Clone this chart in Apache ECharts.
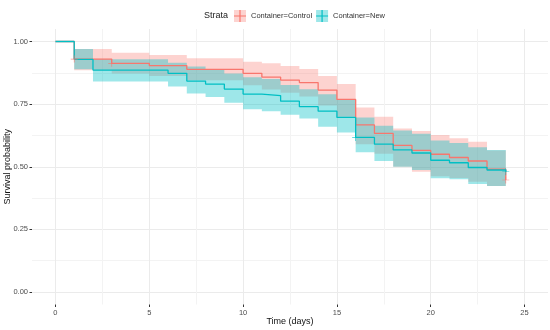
<!DOCTYPE html>
<html><head><meta charset="utf-8">
<script src="https://cdn.jsdelivr.net/npm/echarts@6/dist/echarts.min.js"></script>
<style>html,body{margin:0;padding:0;background:#fff}#c{width:550px;height:330px}</style>
</head><body><div id="c"></div>
<script>
// ---- data ----
const timesControl = [0, 1, 3, 5, 7, 10, 11, 12, 13, 14, 15, 16, 17, 18, 19, 20, 21, 22, 23, 24];
const survControl  = [1, 0.930, 0.913, 0.904, 0.889, 0.873, 0.858, 0.846, 0.836, 0.806, 0.769, 0.667, 0.633, 0.585, 0.565, 0.550, 0.537, 0.523, 0.490, 0.447];
const upperControl = [1, 0.970, 0.955, 0.946, 0.933, 0.919, 0.913, 0.902, 0.890, 0.862, 0.830, 0.737, 0.700, 0.653, 0.643, 0.627, 0.614, 0.600, 0.565, 0.447];
const lowerControl = [1, 0.885, 0.872, 0.862, 0.845, 0.825, 0.808, 0.795, 0.780, 0.745, 0.700, 0.590, 0.552, 0.500, 0.480, 0.462, 0.455, 0.440, 0.423, 0.447];
const censorControl = [[1, 0.930], [3, 0.913], [24, 0.447]];

const timesNew = [0, 1, 2, 6, 7, 8, 9, 10, 11, 12, 13, 14, 15, 16, 17, 18, 19, 20, 21, 22, 23, 24];
const survNew  = [1, 0.929, 0.886, 0.873, 0.842, 0.830, 0.810, 0.790, 0.784, 0.762, 0.740, 0.722, 0.697, 0.617, 0.590, 0.567, 0.555, 0.526, 0.516, 0.497, 0.487, 0.480];
const upperNew = [1, 0.970, 0.929, 0.915, 0.900, 0.890, 0.872, 0.857, 0.850, 0.826, 0.809, 0.789, 0.770, 0.697, 0.664, 0.645, 0.632, 0.605, 0.595, 0.578, 0.567, 0.480];
const lowerNew = [1, 0.889, 0.840, 0.820, 0.792, 0.778, 0.756, 0.730, 0.722, 0.708, 0.693, 0.660, 0.637, 0.558, 0.523, 0.500, 0.487, 0.454, 0.450, 0.431, 0.423, 0.480];
const censorNew = [[16, 0.617], [24, 0.480]];

const xMajorTicks = [0, 5, 10, 15, 20, 25];
const xMinorTicks = [2.5, 7.5, 12.5, 17.5, 22.5];
const yMajorTicks = [0, 0.25, 0.5, 0.75, 1];
const yMinorTicks = [0.125, 0.375, 0.625, 0.875];
const strataNames = ['Container=Control', 'Container=New'];
// ---------------------------------------

const RED = '#F8766D', TEAL = '#00BFC4';
const FONT = 'Liberation Sans, Arial, sans-serif';
const chart = echarts.init(document.getElementById('c'));
const pair = (t, v) => t.map((x, i) => [x, v[i]]);
const plusPath = 'path://M0,5.4H12V6.6H0Z M5.4,0H6.6V12H5.4Z';

function band(name, times, up, lo, fill) {
  return {
    type: 'custom', name, xAxisIndex: 0, yAxisIndex: 0, silent: true, z: 1,
    data: [[times[0], up[0]]],
    itemStyle: { color: fill },
    renderItem: (params, api) => {
      const pts = [];
      for (let i = 0; i < times.length - 1; i++) {
        pts.push(api.coord([times[i], up[i]]));
        pts.push(api.coord([times[i + 1], up[i]]));
      }
      for (let i = times.length - 2; i >= 0; i--) {
        pts.push(api.coord([times[i + 1], lo[i]]));
        pts.push(api.coord([times[i], lo[i]]));
      }
      return { type: 'polygon', shape: { points: pts }, style: { fill } };
    }
  };
}

const gridColor = '#EBEBEB';
const minorColor = '#F3F3F3';
const labelStyle = { color: '#4D4D4D', fontSize: 7.5, fontFamily: FONT };
const nameStyle = { fontSize: 9, color: '#111', fontFamily: FONT };
const PINK_FILL = 'rgba(248,118,109,0.32)', TEAL_FILL = 'rgba(0,191,196,0.38)';

chart.setOption({
  animation: false,
  title: { text: 'Strata', left: 199, top: 6, textStyle: { fontSize: 9, fontWeight: 'normal', color: '#222', fontFamily: FONT } },
  legend: [
    { data: ['bandC', 'bandN'], left: 229, top: 5, itemWidth: 12, itemHeight: 12, itemGap: 4, icon: 'rect',
      formatter: n => n === 'bandC' ? strataNames[0] : strataNames[1],
      textStyle: { fontSize: 7.5, color: 'rgba(0,0,0,0)', fontFamily: FONT }, selectedMode: false },
    { data: strataNames, left: 229, top: 5, itemWidth: 12, itemHeight: 12, itemGap: 4, icon: plusPath,
      textStyle: { fontSize: 7.5, color: '#333', fontFamily: FONT }, selectedMode: false }
  ],
  grid: { left: 32, right: 2, top: 29, bottom: 25.5, containLabel: false, outerBoundsMode: 'none' },
  xAxis: [
    { type: 'value', min: -1.25, max: 26.25, position: 'bottom',
      axisLine: { show: false, onZero: false },
      axisTick: { show: true, length: 2.5, customValues: xMajorTicks, lineStyle: { color: '#333' } },
      axisLabel: { customValues: xMajorTicks, margin: 4, ...labelStyle },
      splitLine: { show: true, lineStyle: { color: gridColor, width: 1 } },
      name: 'Time (days)', nameLocation: 'middle', nameGap: 13, nameMoveOverlap: false,
      nameTextStyle: nameStyle },
    { type: 'value', min: -1.25, max: 26.25, position: 'bottom',
      axisLine: { show: false, onZero: false }, axisLabel: { show: false },
      axisTick: { show: false, customValues: xMinorTicks },
      splitLine: { show: true, lineStyle: { color: minorColor, width: 1 } } }
  ],
  yAxis: [
    { type: 'value', min: -0.05, max: 1.05,
      axisLine: { show: false, onZero: false },
      axisTick: { show: true, length: 2.5, customValues: yMajorTicks, lineStyle: { color: '#333' } },
      axisLabel: { customValues: yMajorTicks, margin: 4, formatter: v => v.toFixed(2), ...labelStyle },
      splitLine: { show: true, lineStyle: { color: gridColor, width: 1 } },
      name: 'Survival probability', nameLocation: 'middle', nameGap: 20, nameRotate: 90, nameMoveOverlap: false,
      nameTextStyle: nameStyle },
    { type: 'value', min: -0.05, max: 1.05,
      axisLine: { show: false, onZero: false }, axisLabel: { show: false },
      axisTick: { show: false, customValues: yMinorTicks },
      splitLine: { show: true, lineStyle: { color: minorColor, width: 1 } } }
  ],
  series: [
    band('bandC', timesControl, upperControl, lowerControl, PINK_FILL),
    band('bandN', timesNew, upperNew, lowerNew, TEAL_FILL),
    { type: 'line', name: strataNames[0], step: 'end', data: pair(timesControl, survControl),
      showSymbol: false, symbol: 'none', lineStyle: { color: RED, width: 1.3 }, itemStyle: { color: RED }, z: 3 },
    { type: 'line', name: strataNames[1], step: 'end', data: pair(timesNew, survNew),
      showSymbol: false, symbol: 'none', lineStyle: { color: TEAL, width: 1.3 }, itemStyle: { color: TEAL }, z: 3 },
    { type: 'scatter', name: 'censorC', data: censorControl, symbol: plusPath, symbolSize: 7,
      itemStyle: { color: RED }, z: 4, silent: true },
    { type: 'scatter', name: 'censorN', data: censorNew, symbol: plusPath, symbolSize: 7,
      itemStyle: { color: TEAL }, z: 4, silent: true }
  ]
});
</script>
</body></html>
